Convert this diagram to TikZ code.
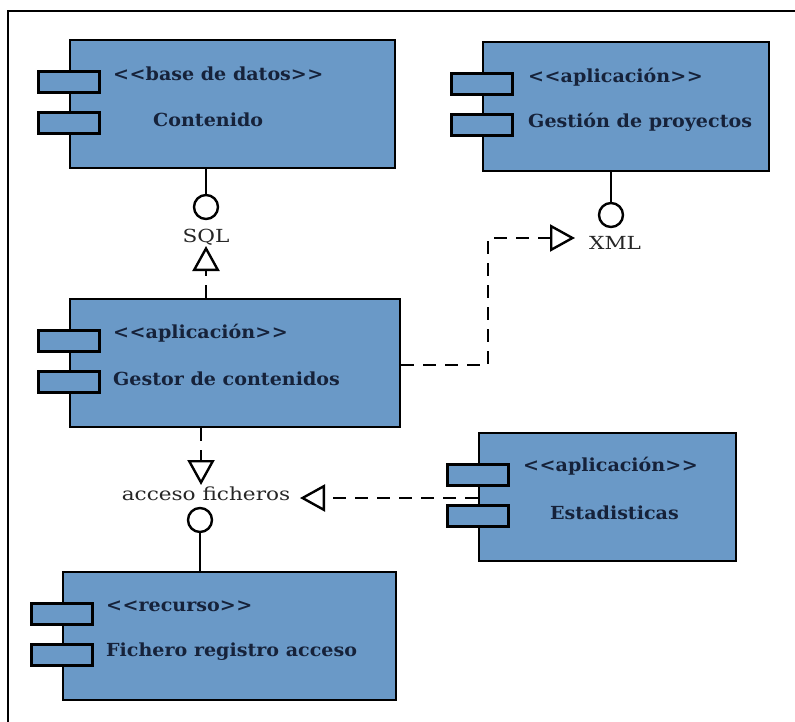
\documentclass[tikz,border=0pt]{standalone}
\usepackage{fontspec}
\setmainfont{DejaVu Serif}
\newfontfamily\boxfont{DejaVu Serif}[FakeStretch=1.06]
\newfontfamily\lblfont{DejaVu Serif}[FakeStretch=1.2]
\usetikzlibrary{arrows.meta,calc}
\definecolor{compblue}{RGB}{106,153,199}
\definecolor{navytxt}{RGB}{22,34,58}
\newcommand\lguil{<\kern0.5pt<}
\newcommand\rguil{>\kern0.5pt>}
\newcommand\compports[1]{%
  \draw[port] ($(#1.north west)+(-30,33)$) rectangle ++(61,21);
  \draw[port] ($(#1.north west)+(-30,74)$) rectangle ++(61,21);}
\begin{document}
\begin{tikzpicture}[x=1pt,y=-1pt,
  comp/.style={draw=black, line width=2.8pt, fill=compblue, rectangle, inner sep=0pt},
  port/.style={draw=black, line width=2.6pt, fill=compblue},
  btxt/.style={anchor=west, inner sep=0pt, text=navytxt, font=\boxfont\bfseries\fontsize{18}{20}\selectfont},
  ltxt/.style={inner sep=0pt, text=black!85, font=\lblfont\fontsize{18}{20}\selectfont},
  iface/.style={circle, draw=black, line width=2.4pt, fill=white, minimum size=24pt, inner sep=0pt},
  assoc/.style={draw=black, line width=2.4pt},
  real/.style={draw=black, line width=2.4pt, dash pattern=on 13pt off 9pt,
    -{Triangle[length=25pt, width=27pt, fill=white, line width=2.4pt]}}]
\useasboundingbox (0,0) rectangle (795,722);
% frame
\draw[line width=1.6pt] (8,722) -- (8,11) -- (795,11);

% components
\node[comp, minimum width=325pt, minimum height=128pt] (cont) at (232.5,104) {};
\compports{cont}
\node[btxt] (conts) at (113,74) {\lguil base de datos\rguil};
\node[btxt] (contn) at (153,120) {Contenido};

\node[comp, minimum width=286pt, minimum height=129pt] (proj) at (626,106.5) {};
\compports{proj}
\node[btxt] (projs) at (528,77) {\lguil aplicación\rguil};
\node[btxt] (projn) at (528,122) {Gestión de proyectos};

\node[comp, minimum width=330pt, minimum height=128pt] (gest) at (235,363) {};
\compports{gest}
\node[btxt] (gests) at (113,333) {\lguil aplicación\rguil};
\node[btxt] (gestn) at (113,379) {Gestor de contenidos};

\node[comp, minimum width=257pt, minimum height=128pt] (esta) at (607.5,497) {};
\compports{esta}
\node[btxt] (estas) at (523,466) {\lguil aplicación\rguil};
\node[btxt] (estan) at (550,513) {Estadisticas};

\node[comp, minimum width=333pt, minimum height=128pt] (fich) at (229.5,636) {};
\compports{fich}
\node[btxt] (fichs) at (106,606) {\lguil recurso\rguil};
\node[btxt] (fichn) at (106,652) {Fichero registro acceso};

% interface SQL
\node[iface] (sql) at (206,207) {};
\node[ltxt] (sqll) at (206,237) {SQL};
\coordinate (sqltip) at (206,246);
\draw[assoc] (sql |- cont.south) -- (sql);
\draw[real] (sqltip |- gest.north) -- (sqltip);

% interface XML
\node[iface] (xml) at (611,215) {};
\node[ltxt, anchor=west] (xmll) at (589,243) {XML};
\coordinate (xmltip) at (575,238);
\coordinate (xmlbend1) at (488,365);
\coordinate (xmlbend2) at (488,238);
\draw[assoc] (xml |- proj.south) -- (xml);
\draw[real] (gest.east |- xmlbend1) -- (xmlbend1) -- (xmlbend2) -- (xmltip);

% interface acceso ficheros
\node[iface] (acc) at (200,520) {};
\node[ltxt] (accl) at (206,494) {acceso ficheros};
\coordinate (acctip) at (201,485);
\coordinate (esttip) at (300,498);
\draw[assoc] (acc |- fich.north) -- (acc);
\draw[real] (acctip |- gest.south) -- (acctip);
\draw[real] (esta.west |- esttip) -- (esttip);
\end{tikzpicture}
\end{document}
